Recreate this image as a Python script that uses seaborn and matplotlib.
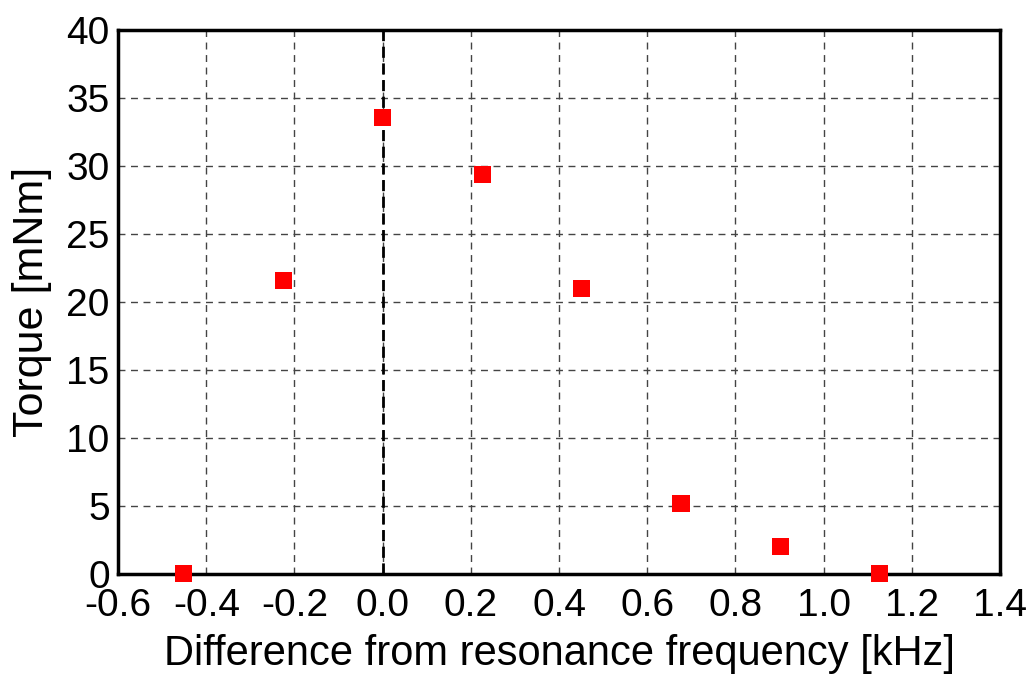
import matplotlib
matplotlib.use('Agg')
import matplotlib.pyplot as plt
import seaborn as sns
import pandas as pd

# data
freq_diff = [-0.451, -0.2255, 0.0, 0.2255, 0.451, 0.6765, 0.902, 1.1275]
torque = [0.0, 21.6, 33.6, 29.4, 21.0, 5.15, 2.05, 0.0]
x_ticks = [-0.6, -0.4, -0.2, 0.0, 0.2, 0.4, 0.6, 0.8, 1.0, 1.2, 1.4]
y_ticks = [0, 5, 10, 15, 20, 25, 30, 35, 40]

df = pd.DataFrame({'diff': freq_diff, 'torque': torque})

sns.set_theme(style="white")
plt.rcParams['font.family'] = ['Liberation Sans', 'DejaVu Sans']

fig = plt.figure(figsize=(10.31, 6.74), dpi=100)
ax = fig.add_axes([0.1145, 0.1484, 0.8555, 0.8071])

ax.grid(True, linestyle=(0, (5, 4)), color='#444444', linewidth=1.0)
ax.axvline(0, color='black', linestyle=(0, (4, 2)), linewidth=2.0, zorder=2)
sns.scatterplot(data=df, x='diff', y='torque', marker='s', color='red', s=150,
                edgecolor='none', clip_on=False, zorder=10, ax=ax)

ax.set_xlim(-0.6, 1.4)
ax.set_ylim(0, 40)
ax.set_xticks(x_ticks)
ax.set_yticks(y_ticks)
ax.set_xticklabels([f'{t:.1f}' for t in x_ticks])
ax.set_yticklabels([str(t) for t in y_ticks])
ax.tick_params(axis='both', labelsize=28, length=0, colors='black')
ax.tick_params(axis='x', pad=10)
ax.tick_params(axis='y', pad=6)
ax.set_xlabel('Difference from resonance frequency [kHz]', fontsize=30,
              color='black', labelpad=7)
ax.set_ylabel('Torque [mNm]', fontsize=31, color='black', labelpad=10)
for s in ax.spines.values():
    s.set_color('black')
    s.set_linewidth(2.5)
    s.set_zorder(5)

fig.savefig('out.png', dpi=100)
